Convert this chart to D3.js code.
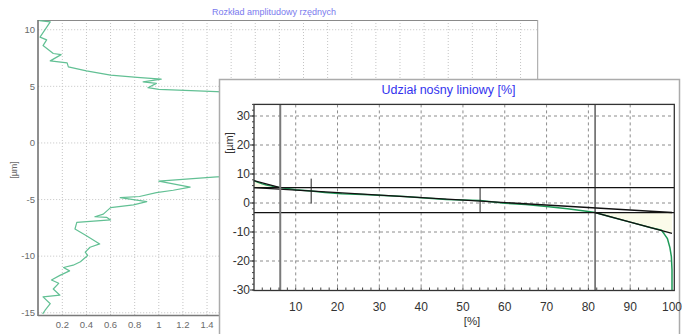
<!DOCTYPE html>
<html><head><meta charset="utf-8">
<script src="https://cdn.jsdelivr.net/npm/d3@7"></script>
<style>
body{margin:0;background:#fff;}
svg{display:block;}
</style></head>
<body>
<svg id="c" width="683" height="334"></svg>
<script>
// ---------- Background chart: amplitude distribution ----------
const ampTitle = "Rozkład amplitudowy rzędnych";
const ampYLabel = "[µm]";
const ampXTicks = [0.2,0.4,0.6,0.8,1,1.2,1.4,1.6,1.8,2,2.2,2.4,2.6,2.8,3,3.2,3.4,3.6,3.8,4];
const ampYTicks = [10,5,0,-5,-10,-15];
const ampDensity = [0.01,0.10,0.015,0.07,0.04,0.125,0.19,0.10,0.24,0.25,0.40,0.60,0.82,1.02,0.87,0.98,0.91,1.0,1.48,2.2,3.0,3.6,3.9,3.6,2.8,2.0,1.48,1.0,1.26,1.12,0.98,0.84,0.68,0.90,0.79,0.60,0.54,0.47,0.57,0.60,0.32,0.305,0.40,0.51,0.43,0.39,0.41,0.35,0.29,0.21,0.26,0.18,0.11,0.17,0.125,0.18,0.04,0.10,0.056,0.037];
const ampHeight = [10.8,10.7,9.35,9.1,8.6,7.9,7.8,7.25,7.07,6.72,6.37,5.99,5.79,5.64,5.4,5.26,4.88,4.74,4.53,4.1,3.2,1.8,0.2,-1.2,-2.2,-2.8,-3.0,-3.37,-3.9,-4.18,-4.39,-4.73,-4.83,-5.18,-5.47,-5.71,-6.29,-6.52,-6.58,-6.8,-7.02,-7.6,-8.19,-8.92,-9.21,-9.65,-9.94,-10.5,-10.8,-11.0,-11.3,-11.7,-12.1,-12.4,-12.9,-13.45,-13.6,-14.2,-14.8,-15.1];

// ---------- Foreground chart: bearing ratio (Abbott) curve ----------
const brTitle = "Udział nośny liniowy [%]";
const brXLabel = "[%]";
const brYLabel = "[µm]";
const brXTicks = [10,20,30,40,50,60,70,80,90,100];
const brYTicks = [30,20,10,0,-10,-20,-30];
const brPct = [0,1,2,3,4,5,6.3,8,10,13.7,17,21,26,31,36,41,46,50,54.1,60,65,70,75,80,81.6,85,90,95,97.5,98.2,98.9,99.5,99.85,100,100];
const brHeight = [7.7,7.1,6.6,6.2,5.9,5.6,5.3,5.0,4.6,4.1,3.6,3.2,2.95,2.6,2.2,1.7,1.2,1.05,0.85,-0.1,-0.5,-1.2,-2.0,-2.9,-3.3,-4.65,-6.6,-8.55,-9.4,-10.8,-12.3,-15.4,-18.5,-23,-30];
// core roughness construction
const rkLevels = [5.3, -3.3];      // horizontal Rk limits
const mrValues = [6.3, 81.6];      // Mr1, Mr2
const rpkTop = 7.7;                // Rpk triangle apex at 0 %
const rvkBottom = -10.5;           // Rvk triangle apex at 100 %
const secantWindow = [13.7, 54.1]; // 40 % window markers

const svg = d3.select("#c");
const narrow = "'Liberation Sans Narrow','Arial Narrow',sans-serif";
const sans = "'Liberation Sans',Arial,sans-serif";
const frontLeft = 219.5;

// ===== background chart =====
const ax = d3.scaleLinear().domain([0, 4.142]).range([38.2, 537.7]);
const ay = d3.scaleLinear().domain([-15.26, 10.86]).range([315.7, 20]);
const g1 = svg.append("g");

// grid
g1.selectAll("line.vg").data(ampXTicks).join("line")
  .attr("x1", d=>ax(d)).attr("x2", d=>ax(d)).attr("y1", ay.range()[1]).attr("y2", ay.range()[0])
  .attr("stroke", "#c4c4c4").attr("stroke-width", 1).attr("stroke-dasharray", "1,2");
g1.selectAll("line.hg").data(ampYTicks).join("line")
  .attr("x1", ax.range()[0]).attr("x2", ax.range()[1]).attr("y1", d=>ay(d)).attr("y2", d=>ay(d))
  .attr("stroke", "#c4c4c4").attr("stroke-width", 1).attr("stroke-dasharray", "1,2");

// frame
g1.append("line").attr("x1", ax.range()[0]).attr("x2", ax.range()[1]).attr("y1", 20.5).attr("y2", 20.5).attr("stroke", "#8a8a8a");
g1.append("line").attr("x1", 537.7).attr("x2", 537.7).attr("y1", 20).attr("y2", 316).attr("stroke", "#a0a0a0");
g1.append("line").attr("x1", 38).attr("x2", 38).attr("y1", 20).attr("y2", 316).attr("stroke", "#6a6a6a").attr("stroke-width", 1.5);
g1.append("line").attr("x1", 38).attr("x2", 538).attr("y1", 315.5).attr("y2", 315.5).attr("stroke", "#7a7a7a").attr("stroke-width", 1.5);

// tick labels (only those not covered by the front window)
g1.selectAll("text.yt").data(ampYTicks).join("text")
  .attr("x", 35).attr("y", d=>ay(d)).attr("dy", "0.35em").attr("text-anchor", "end")
  .attr("font-family", sans).attr("font-size", 9.5).attr("fill", "#6a6a6a").text(d=>d);
g1.selectAll("text.xt").data(ampXTicks.filter(d => ax(d) + 8 < frontLeft)).join("text")
  .attr("x", d=>ax(d)).attr("y", 328).attr("text-anchor", "middle")
  .attr("font-family", sans).attr("font-size", 9.5).attr("fill", "#6a6a6a").text(d=>d3.format("~g")(d));
g1.append("text").attr("transform", "translate(17,170) rotate(-90)").attr("text-anchor", "middle")
  .attr("font-family", sans).attr("font-size", 9).attr("fill", "#6a6a6a").text(ampYLabel);
g1.append("text").attr("x", 274).attr("y", 15).attr("text-anchor", "middle")
  .attr("font-family", sans).attr("font-size", 9).attr("fill", "#7a7aee").text(ampTitle);

// curve
const ampLine = d3.line().x((d,i)=>ax(ampDensity[i])).y((d,i)=>ay(ampHeight[i]));
g1.append("path").attr("d", ampLine(ampHeight)).attr("fill", "none")
  .attr("stroke", "#62c094").attr("stroke-width", 1.2).attr("stroke-linejoin", "round");

// ===== foreground window =====
const g2 = svg.append("g");
g2.append("rect").attr("x", frontLeft).attr("y", 79.5).attr("width", 460).attr("height", 260)
  .attr("fill", "#fff").attr("stroke", "#ababab").attr("stroke-width", 1.5);

const bx = d3.scaleLinear().domain([0, 100]).range([253.9, 672]);
const by = d3.scaleLinear().domain([-30, 34]).range([290, 104.4]);
const L = 254, R = 674.3, T = 104.4, B = 290.5;

// dashed grid
g2.selectAll("line.vg").data(brXTicks.filter(d=>d<100)).join("line")
  .attr("x1", d=>bx(d)).attr("x2", d=>bx(d)).attr("y1", T).attr("y2", B)
  .attr("stroke", "#8c8c8c").attr("stroke-dasharray", "3,3");
g2.selectAll("line.hg").data(brYTicks.filter(d=>d>-30)).join("line")
  .attr("x1", L).attr("x2", R).attr("y1", d=>by(d)).attr("y2", d=>by(d))
  .attr("stroke", "#8c8c8c").attr("stroke-dasharray", "3,3");

// triangles (Rpk / Rvk)
const tri1 = [[0, rkLevels[0]], [0, rpkTop], [mrValues[0], rkLevels[0]]];
const tri2 = [[mrValues[1], rkLevels[1]], [100, rkLevels[1]], [100, rvkBottom]];
const poly = d3.line().x(d=>bx(d[0])).y(d=>by(d[1]));
g2.append("path").attr("d", poly(tri1)+"Z").attr("fill", "#fbfbea").attr("stroke", "none");
g2.append("path").attr("d", poly(tri2)+"Z").attr("fill", "#fbfbea").attr("stroke", "none");

// green bearing curve
const brLine = d3.line().x((d,i)=>bx(brPct[i])).y((d,i)=>by(brHeight[i]));
g2.append("path").attr("d", brLine(brHeight)).attr("fill", "none")
  .attr("stroke", "#1f9a58").attr("stroke-width", 1.5);

// equivalent straight line
g2.append("path").attr("d", poly([[0, rkLevels[0]], [100, rkLevels[1]]])).attr("stroke", "#111").attr("stroke-width", 1.4).attr("fill", "none");
// triangle hypotenuses
g2.append("path").attr("d", poly([[0, rpkTop], [mrValues[0], rkLevels[0]]])).attr("stroke", "#111").attr("stroke-width", 1.2).attr("fill", "none");
g2.append("path").attr("d", poly([[mrValues[1], rkLevels[1]], [100, rvkBottom]])).attr("stroke", "#111").attr("stroke-width", 1.2).attr("fill", "none");

// horizontal Rk lines
g2.selectAll("line.rk").data(rkLevels).join("line")
  .attr("x1", L).attr("x2", R).attr("y1", d=>by(d)).attr("y2", d=>by(d))
  .attr("stroke", "#111").attr("stroke-width", 1.2);
// vertical Mr lines
g2.append("line").attr("x1", bx(mrValues[0])).attr("x2", bx(mrValues[0])).attr("y1", T).attr("y2", B)
  .attr("stroke", "#7a7a7a").attr("stroke-width", 2);
g2.append("line").attr("x1", bx(mrValues[1])).attr("x2", bx(mrValues[1])).attr("y1", T).attr("y2", B)
  .attr("stroke", "#222").attr("stroke-width", 1.1);

// secant window markers (±12 px around curve)
const interp = p => { for (let i=1;i<brPct.length;i++){ if (p<=brPct[i]) { const t=(p-brPct[i-1])/(brPct[i]-brPct[i-1]); return brHeight[i-1]+t*(brHeight[i]-brHeight[i-1]); } } return brHeight[brHeight.length-1]; };
g2.selectAll("line.win").data(secantWindow).join("line")
  .attr("x1", d=>bx(d)).attr("x2", d=>bx(d))
  .attr("y1", d=>by(interp(d))-12.5).attr("y2", d=>by(interp(d))+12.5)
  .attr("stroke", "#222").attr("stroke-width", 1);

// frame
g2.append("rect").attr("x", L).attr("y", T).attr("width", R-L).attr("height", B-T)
  .attr("fill", "none").attr("stroke", "#333").attr("stroke-width", 1.3);
// minor ticks
const xMinor = d3.range(2, 100, 2);
g2.selectAll("line.xm").data(xMinor).join("line")
  .attr("x1", d=>bx(d)).attr("x2", d=>bx(d)).attr("y1", B-3).attr("y2", B)
  .attr("stroke", "#444");
const yMinor = d3.range(-30, 35, 2);
g2.selectAll("line.ym").data(yMinor).join("line")
  .attr("x1", L-2).attr("x2", L).attr("y1", d=>by(d)).attr("y2", d=>by(d)).attr("stroke", "#444");
g2.selectAll("line.yM").data(brYTicks).join("line")
  .attr("x1", L-4).attr("x2", L).attr("y1", d=>by(d)).attr("y2", d=>by(d)).attr("stroke", "#333");

// labels
g2.selectAll("text.yt").data(brYTicks).join("text")
  .attr("x", 250).attr("y", d=>by(d)).attr("dy", "0.36em").attr("text-anchor", "end")
  .attr("font-family", narrow).attr("font-size", 12).attr("fill", "#333").text(d=>d);
g2.selectAll("text.xt").data(brXTicks).join("text")
  .attr("x", d=>bx(d)).attr("y", 310.5).attr("text-anchor", "middle")
  .attr("font-family", narrow).attr("font-size", 12).attr("fill", "#333").text(d=>d);
g2.append("text").attr("x", 472).attr("y", 325).attr("text-anchor", "middle")
  .attr("font-family", narrow).attr("font-size", 11.5).attr("fill", "#333").text(brXLabel);
g2.append("text").attr("transform", "translate(233,143) rotate(-90)").attr("text-anchor", "middle")
  .attr("font-family", narrow).attr("font-size", 11).attr("fill", "#333").text(brYLabel);
g2.append("text").attr("x", 448.5).attr("y", 94).attr("text-anchor", "middle")
  .attr("font-family", narrow).attr("font-size", 12.5).attr("fill", "#3333ee").text(brTitle);
</script>
</body></html>
